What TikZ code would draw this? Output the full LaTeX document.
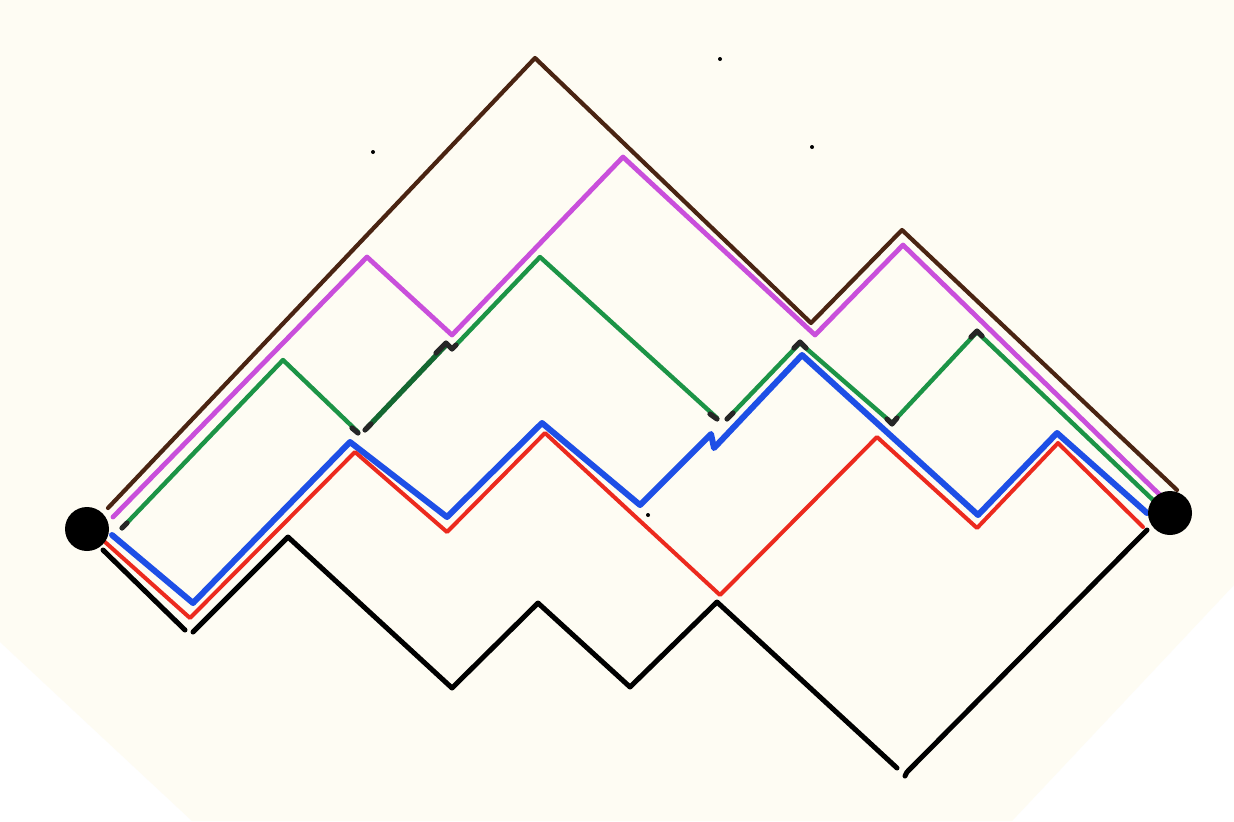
\documentclass[tikz,border=0pt]{standalone}
\begin{document}
\begin{tikzpicture}[x=0.5pt,y=-0.5pt,
  pen/.style={line width=2.2pt,line cap=round,line join=round},
  brownpen/.style={pen,draw=penbrown,line width=2.1pt},
  magentapen/.style={pen,draw=penmagenta,line width=2.4pt},
  greenpen/.style={pen,draw=pengreen,line width=2.2pt},
  darkgreenpen/.style={pen,draw=pengreen!70!black,line width=2.6pt},
  bluepen/.style={pen,draw=penblue,line width=3pt},
  redpen/.style={pen,draw=penred,line width=2pt},
  blackpen/.style={pen,draw=black,line width=2.5pt},
  inkmark/.style={pen,draw=black!85,line width=2.6pt},
  bigdot/.style={circle,fill=black,inner sep=0pt,minimum size=22pt},
  speck/.style={circle,fill=black,inner sep=0pt,minimum size=2pt}]
\definecolor{paper}{HTML}{FEFCF3}
\definecolor{penbrown}{HTML}{4A2412}
\definecolor{penmagenta}{HTML}{C94FDB}
\definecolor{pengreen}{HTML}{1C9446}
\definecolor{penblue}{HTML}{1E4FE6}
\definecolor{penred}{HTML}{EC2A1E}
\useasboundingbox (0,0) rectangle (1234,821);
\fill[white] (0,0) rectangle (1234,821);
\fill[paper] (0,0) -- (1234,0) -- (1234,585) -- (1012,821) -- (192,821) -- (0,642) -- cycle;
% specks
\node[speck] (s1) at (373,152) {};
\node[speck] (s2) at (720,59) {};
\node[speck] (s3) at (812,147) {};
\node[speck] (s4) at (648,515) {};
% brown
\draw[brownpen] (108,508) -- (535,58) -- (811,323) -- (902,230) -- (1177,490);
% magenta
\draw[magentapen] (113,517) -- (367,257) -- (452,335) -- (623,157) -- (815,335) -- (903,245) -- (1160,495);
% green
\draw[greenpen] (122,528) -- (283,360) -- (358,432);
\draw[darkgreenpen] (366,429) -- (446,345);
\draw[greenpen] (454,347) -- (540,257) -- (717,418);
\draw[greenpen] (728,418) -- (800,343) -- (892,423) -- (977,332) -- (1153,500);
\draw[inkmark] (122,528) -- (127,523);
\draw[inkmark] (352,428) -- (358,433);
\draw[inkmark] (365,430) -- (371,424);
\draw[inkmark] (436,353) -- (446,343) -- (452,349) -- (456,345);
\draw[inkmark] (710,414) -- (717,419);
\draw[inkmark] (727,419) -- (733,413);
\draw[inkmark] (794,348) -- (800,342) -- (806,348);
\draw[inkmark] (887,419) -- (892,424) -- (897,418);
\draw[inkmark] (971,337) -- (977,331) -- (982,336);
% blue
\draw[bluepen] (112,535) -- (193,603) -- (350,442) -- (447,517) -- (542,423) -- (640,505) -- (711,434) -- (714,448) -- (802,355) -- (978,515) -- (1057,433) -- (1147,513);
% red
\draw[redpen] (105,542) -- (190,618) -- (355,452) -- (447,532) -- (545,433) -- (720,595) -- (877,437) -- (977,528) -- (1058,443) -- (1143,527);
% black
\draw[blackpen] (103,550) -- (185,630);
\draw[blackpen] (193,632) -- (288,537) -- (452,688) -- (538,603) -- (630,687) -- (717,602) -- (897,768);
\draw[blackpen] (905,776) -- (907,772) -- (1147,530);
% end dots
\node[bigdot] (L) at (87,529) {};
\node[bigdot] (R) at (1170,513) {};
\end{tikzpicture}
\end{document}
